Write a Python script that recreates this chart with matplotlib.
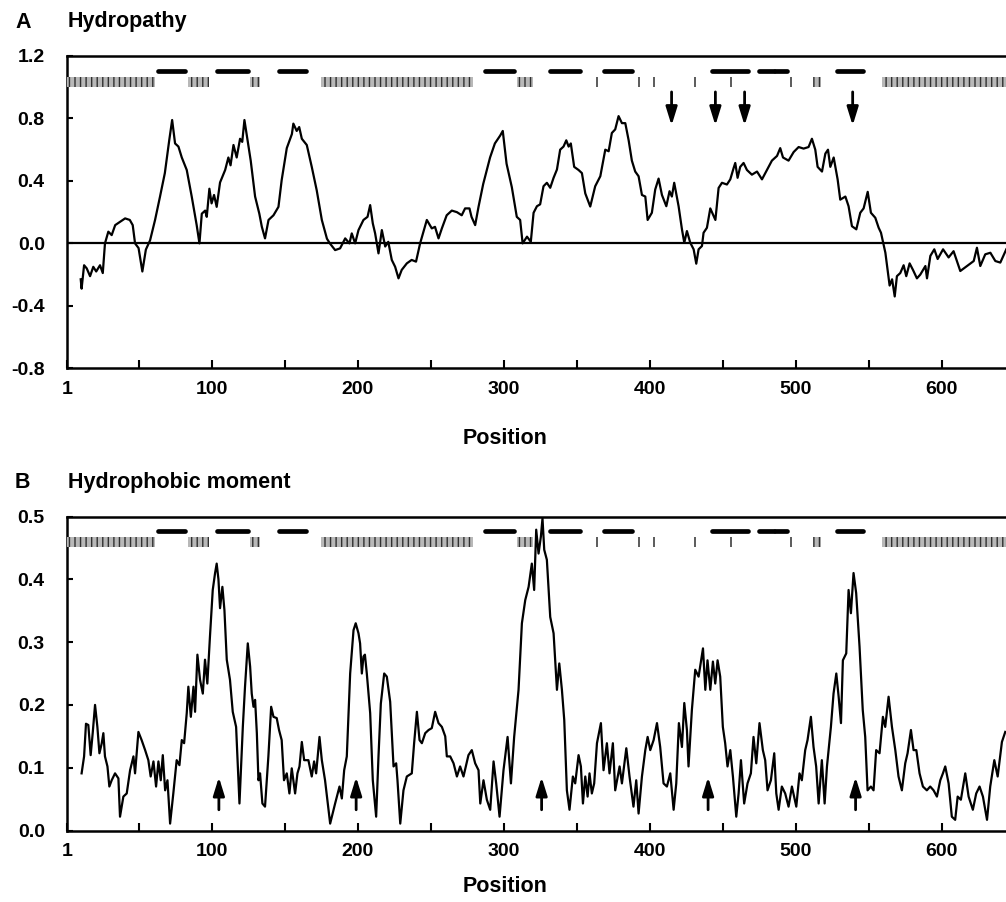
import matplotlib
matplotlib.use("Agg")
import matplotlib.pyplot as plt

plt.rcParams['font.family'] = ['Liberation Sans', 'DejaVu Sans']
plt.rcParams['font.weight'] = 'bold'
plt.rcParams['hatch.linewidth'] = 1.0

# ---- Panel A: hydropathy profile ----
hydro_pos = [10.4, 11, 12.7, 14.5, 16.8, 19, 21, 23.6, 25.5, 27, 29.3, 31.6, 34, 37.3, 40.8, 44, 46, 47.6,
             50, 52.6, 55, 57.9, 61.3, 64.7, 68, 71, 73, 75, 77.3, 79.6, 83, 86.4, 89.8, 91.7, 93.3, 95.6,
             96.7, 98.5, 100, 101.7, 103.5, 105.8, 109.3, 111.5, 113, 115, 117.2, 119.5, 121, 122.5, 124,
             126.8, 129.8, 132.7, 134.4, 136.6, 139, 142.4, 145.8, 148, 151.5, 155, 156, 158.3, 160, 161.8,
             165.2, 168.6, 172, 175.5, 179, 181, 184.6, 188, 191.5, 194.4, 196, 198.3, 200.6, 204, 206.8,
             208.6, 210.4, 212, 214.3, 216.6, 218.9, 221, 223.4, 225.7, 228, 230.2, 233.7, 237, 240, 242.8,
             247.4, 250.8, 253, 255.4, 257.7, 261, 264.5, 268, 271.3, 273.6, 276.6, 278, 280.5, 282.8, 286,
             290.7, 294, 297.6, 299.4, 302, 305.6, 309, 311.3, 313, 316, 318.6, 320.5, 322.8, 325, 327.3,
             329.6, 331.9, 334.2, 336.5, 338.7, 341, 342.9, 344.5, 346, 348.3, 351.3, 353.6, 355.9, 359.3,
             362.7, 366.2, 369.6, 371.9, 374.1, 376.4, 378.7, 381, 383.3, 385.6, 387.8, 390.1, 392.4, 394.7,
             397, 398.6, 401.5, 403.8, 406.1, 408.4, 411.4, 413.6, 415.2, 416.8, 419.8, 422.1, 423.7, 425.5,
             427.8, 430.1, 431.9, 433.5, 435.8, 436.9, 439.2, 441.5, 445, 447.2, 449.5, 452.9, 455.2, 457.5,
             458.6, 460.2, 462, 464.3, 466.6, 470, 473.5, 476.9, 480.3, 483.7, 487.2, 489.4, 491.3, 495.1,
             498.6, 502, 505.4, 508.8, 511.1, 513.4, 515, 518, 520.3, 522.1, 523.7, 526, 528.7, 530.5, 534,
             536.2, 538.5, 541.5, 544.2, 546.5, 549.3, 551.5, 554.5, 556.8, 558.4, 561.4, 564.3, 566, 567.8,
             569.3, 571.6, 573.9, 575.7, 578, 580.3, 583, 585.3, 588.8, 589.9, 592.2, 594.9, 597.2, 600.9,
             604.7, 608.1, 612.7, 617.3, 621.9, 624.1, 626.4, 629.8, 633.3, 636.7, 640.1, 644.2]
hydro_val = [-0.23, -0.29, -0.14, -0.16, -0.21, -0.15, -0.18, -0.14, -0.19, 0.0, 0.075, 0.053, 0.117, 0.138,
             0.16, 0.15, 0.117, 0.0, -0.03, -0.18, -0.04, 0.02, 0.15, 0.3, 0.45, 0.66, 0.79, 0.64, 0.62, 0.55,
             0.47, 0.3, 0.117, 0.0, 0.19, 0.21, 0.17, 0.35, 0.256, 0.31, 0.234, 0.39, 0.47, 0.55, 0.5, 0.63,
             0.55, 0.67, 0.65, 0.79, 0.7, 0.53, 0.3, 0.19, 0.107, 0.032, 0.15, 0.18, 0.234, 0.405, 0.61, 0.7,
             0.767, 0.72, 0.745, 0.67, 0.63, 0.49, 0.34, 0.15, 0.03, 0.0, -0.043, -0.032, 0.032, 0.0, 0.064,
             0.0, 0.085, 0.15, 0.17, 0.245, 0.128, 0.064, -0.064, 0.085, -0.02, 0.01, -0.106, -0.15, -0.224,
             -0.17, -0.128, -0.106, -0.117, 0.0, 0.15, 0.096, 0.106, 0.032, 0.096, 0.18, 0.21, 0.2, 0.18,
             0.224, 0.224, 0.17, 0.117, 0.234, 0.38, 0.55, 0.64, 0.69, 0.72, 0.51, 0.36, 0.17, 0.15, 0.0,
             0.043, 0.01, 0.196, 0.238, 0.25, 0.366, 0.388, 0.356, 0.42, 0.473, 0.6, 0.62, 0.66, 0.62, 0.64,
             0.49, 0.47, 0.45, 0.32, 0.236, 0.366, 0.43, 0.6, 0.59, 0.707, 0.73, 0.815, 0.77, 0.77, 0.66,
             0.53, 0.46, 0.43, 0.31, 0.3, 0.15, 0.196, 0.345, 0.415, 0.31, 0.238, 0.334, 0.3, 0.388, 0.238,
             0.09, 0.004, 0.079, 0.004, -0.038, -0.13, -0.038, -0.017, 0.068, 0.1, 0.224, 0.15, 0.355, 0.388,
             0.377, 0.41, 0.483, 0.515, 0.42, 0.49, 0.515, 0.47, 0.44, 0.46, 0.41, 0.47, 0.53, 0.56, 0.61,
             0.55, 0.53, 0.585, 0.617, 0.607, 0.617, 0.67, 0.6, 0.49, 0.46, 0.575, 0.6, 0.49, 0.55, 0.41,
             0.28, 0.3, 0.238, 0.11, 0.09, 0.196, 0.224, 0.33, 0.196, 0.164, 0.1, 0.068, -0.06, -0.27, -0.23,
             -0.34, -0.21, -0.19, -0.14, -0.21, -0.128, -0.17, -0.224, -0.2, -0.145, -0.224, -0.08, -0.038,
             -0.1, -0.038, -0.09, -0.05, -0.177, -0.145, -0.113, -0.028, -0.145, -0.07, -0.06, -0.113,
             -0.123, -0.038]

# ---- Panel B: hydrophobic moment profile ----
moment_pos = [11, 12.7, 14, 15.6, 17.2, 18.6, 20.2, 21.8, 23.2, 24.8, 25.9, 27, 28.7, 30, 31.6, 33.9, 36.2,
              37.3, 39.6, 41.9, 44.2, 46.5, 47.6, 49.9, 52.1, 54.5, 56.7, 58.3, 60.2, 62, 63.6, 65.2, 66.6,
              68.2, 69.8, 71.6, 73.8, 76.1, 78, 79.6, 81.2, 83, 84.1, 85.8, 87.6, 88.7, 90.3, 92.1, 94, 95.5,
              97.1, 98.9, 100.8, 102.4, 103.5, 104.7, 105.8, 107.4, 108.8, 110.4, 112.6, 114.5, 116.8, 119.1,
              121.4, 122.9, 124.8, 126.4, 127.5, 128.7, 129.8, 131, 132.1, 133.2, 134.8, 136.6, 138.9, 140.8,
              142.4, 144.6, 146.2, 148, 149.6, 151.5, 153.3, 154.9, 157.2, 158.8, 160.2, 161.8, 163.4, 166.3,
              168.6, 170.2, 171.6, 173.9, 175.5, 177.7, 181.2, 184.6, 187.6, 189.2, 190.8, 192.6, 194.9,
              197.2, 198.7, 200.6, 201.7, 202.9, 204, 205, 206.3, 208.6, 210.4, 212.7, 214.3, 215.9, 218.2,
              220, 222.3, 224.6, 226.4, 227.3, 229.2, 231.4, 233.7, 237.1, 238.7, 240.6, 242.4, 244, 246.3,
              248.6, 250.8, 253.1, 255.4, 257.7, 260, 261.1, 263.4, 265.7, 268, 270.2, 272.5, 275.9, 278.2,
              280.5, 282.8, 284, 286.2, 288.5, 290.8, 293.1, 294.9, 297.2, 299.9, 302.7, 305, 307.2, 310.2,
              312.5, 314.8, 317.1, 319.3, 320.9, 322.3, 323.9, 325.5, 326.6, 327.8, 329.6, 331.9, 334.2,
              336.5, 338.1, 339.9, 341.5, 343.3, 345.1, 347.4, 349, 351.3, 352.9, 354.3, 355.9, 357.5, 358.8,
              360.4, 362, 363.9, 366.6, 368.4, 370.7, 372.5, 374.8, 376.4, 379.4, 381, 384, 386.2, 388.9,
              390.8, 392.4, 394.7, 397, 398.6, 400.4, 402.7, 405, 407.2, 409.5, 411.8, 414.1, 416.4, 418.2,
              420, 422.1, 423.7, 425.5, 426.6, 428.9, 431.2, 433.5, 436.5, 438.1, 439.6, 441.5, 443.3, 444.9,
              446.5, 448.3, 450.1, 451.7, 453.3, 455.2, 457, 459.3, 460.9, 462.5, 464.7, 467, 469.3, 471.1,
              473, 475.2, 477.5, 479.1, 480.7, 483, 485.3, 486.7, 488.3, 490.5, 492.8, 495.1, 497.4, 500.4,
              502.6, 504.2, 506.5, 508.1, 510.4, 512.2, 514, 515.7, 517.9, 519.8, 521.4, 524.1, 525.9, 527.8,
              529.4, 531, 532.3, 534.6, 536.2, 537.8, 539.6, 541.4, 543.7, 545.9, 547.6, 549.2, 551.5, 553.3,
              555.1, 557.4, 559.7, 561.3, 563.6, 565.9, 568.2, 570.4, 572.7, 575, 576.6, 578.9, 580.7, 582.6,
              584.8, 587.1, 589.8, 592.1, 594.4, 596.7, 599, 600.8, 602.4, 604.7, 606.9, 609.2, 610.9, 613.1,
              616.1, 618.4, 621.3, 623.6, 625.9, 628.2, 631, 633.2, 636, 638.3, 641.2, 643.5]
moment_val = [0.091, 0.118, 0.17, 0.168, 0.12, 0.155, 0.2, 0.165, 0.123, 0.139, 0.155, 0.118, 0.102, 0.07,
              0.08, 0.091, 0.083, 0.022, 0.054, 0.059, 0.096, 0.118, 0.091, 0.157, 0.144, 0.128, 0.112, 0.086,
              0.11, 0.07, 0.11, 0.08, 0.12, 0.064, 0.08, 0.011, 0.059, 0.112, 0.104, 0.144, 0.139, 0.187,
              0.229, 0.181, 0.229, 0.189, 0.28, 0.24, 0.218, 0.272, 0.234, 0.309, 0.383, 0.41, 0.425, 0.4,
              0.354, 0.388, 0.351, 0.272, 0.24, 0.189, 0.165, 0.043, 0.165, 0.229, 0.298, 0.261, 0.218, 0.197,
              0.208, 0.155, 0.08, 0.091, 0.043, 0.038, 0.118, 0.197, 0.181, 0.179, 0.16, 0.144, 0.08, 0.091,
              0.059, 0.099, 0.059, 0.091, 0.102, 0.141, 0.112, 0.112, 0.086, 0.11, 0.091, 0.149, 0.112, 0.08,
              0.011, 0.043, 0.07, 0.051, 0.096, 0.118, 0.25, 0.319, 0.33, 0.314, 0.298, 0.25, 0.277, 0.28,
              0.25, 0.187, 0.08, 0.022, 0.118, 0.202, 0.25, 0.245, 0.205, 0.102, 0.107, 0.08, 0.011, 0.064,
              0.086, 0.091, 0.139, 0.189, 0.144, 0.139, 0.155, 0.16, 0.163, 0.189, 0.171, 0.165, 0.15, 0.118,
              0.118, 0.107, 0.086, 0.102, 0.086, 0.12, 0.128, 0.107, 0.096, 0.043, 0.08, 0.049, 0.033, 0.11,
              0.075, 0.022, 0.096, 0.149, 0.075, 0.149, 0.224, 0.33, 0.367, 0.388, 0.425, 0.383, 0.479, 0.441,
              0.468, 0.497, 0.447, 0.431, 0.34, 0.314, 0.224, 0.266, 0.224, 0.176, 0.064, 0.033, 0.086, 0.075,
              0.12, 0.102, 0.043, 0.086, 0.054, 0.091, 0.059, 0.075, 0.139, 0.171, 0.096, 0.139, 0.091, 0.139,
              0.064, 0.102, 0.075, 0.131, 0.086, 0.038, 0.08, 0.027, 0.086, 0.128, 0.149, 0.128, 0.144, 0.171,
              0.133, 0.075, 0.07, 0.091, 0.033, 0.075, 0.171, 0.133, 0.203, 0.16, 0.102, 0.192, 0.256, 0.245,
              0.29, 0.224, 0.271, 0.224, 0.269, 0.234, 0.271, 0.245, 0.165, 0.139, 0.102, 0.128, 0.086, 0.022,
              0.059, 0.112, 0.043, 0.075, 0.091, 0.149, 0.107, 0.171, 0.128, 0.112, 0.064, 0.08, 0.123, 0.059,
              0.033, 0.07, 0.059, 0.038, 0.07, 0.038, 0.091, 0.08, 0.128, 0.144, 0.181, 0.133, 0.102, 0.043,
              0.112, 0.043, 0.102, 0.165, 0.218, 0.25, 0.213, 0.171, 0.271, 0.282, 0.383, 0.346, 0.41, 0.378,
              0.293, 0.192, 0.149, 0.064, 0.07, 0.064, 0.128, 0.123, 0.181, 0.165, 0.213, 0.165, 0.128, 0.086,
              0.064, 0.107, 0.123, 0.16, 0.128, 0.128, 0.091, 0.07, 0.064, 0.07, 0.064, 0.054, 0.08, 0.091,
              0.102, 0.075, 0.022, 0.017, 0.054, 0.049, 0.091, 0.054, 0.033, 0.059, 0.07, 0.054, 0.017, 0.07,
              0.112, 0.086, 0.141, 0.157]

# ---- Annotation tracks (same for both panels) ----
helix_segments = [(63, 82), (104, 125), (146, 165), (287, 307), (332, 352), (369, 388),
                  (443, 467), (475, 485), (486, 494), (528, 546)]
hatched_regions = [(1, 61), (84, 98), (126, 133), (175, 279), (309, 320), (512, 517), (559, 644)]
single_marks = [364, 393, 403, 431, 456, 497]

hydro_arrows = [415, 445, 465, 539]
moment_arrows = [105, 199, 326, 440, 541]

x_ticks = [1, 100, 200, 300, 400, 500, 600]
x_minor = [50, 150, 250, 350, 450, 550]


def draw_tracks(ax, helix_y, band_lo, band_hi):
    # thick dashes for the predicted segments
    for s, e in helix_segments:
        ax.plot([s, e], [helix_y, helix_y], color='black', lw=3.4, solid_capstyle='round', zorder=4)
    # barcode-like grey blocks
    for s, e in hatched_regions:
        ax.bar(s, band_hi - band_lo, width=e - s, bottom=band_lo, align='edge',
               facecolor='#b8b8b8', edgecolor='#303030', hatch='|||', linewidth=0, zorder=3)
    ax.vlines(single_marks, band_lo, band_hi, color='#404040', lw=1.2, zorder=3)


def style_axis(ax, yticks):
    ax.set_xlim(1, 644)
    ax.set_xticks(x_ticks)
    ax.set_xticklabels([str(t) for t in x_ticks])
    ax.set_xticks(x_minor, minor=True)
    ax.set_yticks(yticks)
    ax.set_yticklabels(['%.1f' % t for t in yticks])
    ax.set_ylim(yticks[0], yticks[-1])
    ax.tick_params(axis='both', which='both', direction='in', width=1.5, labelsize=14)
    ax.tick_params(axis='x', which='both', length=6, pad=9)
    ax.tick_params(axis='y', which='both', length=4, pad=16)
    for sp in ['left', 'bottom', 'top']:
        ax.spines[sp].set_linewidth(1.8)
    ax.spines['right'].set_visible(False)


fig = plt.figure(figsize=(10.06, 9.02), dpi=100)

# Panel A
axA = fig.add_axes([67 / 1006, 1 - 368.3 / 902, 1 - 67 / 1006, 312.3 / 902])
axA.axhline(0, color='black', lw=1.6, zorder=2)
axA.plot(hydro_pos, hydro_val, color='black', lw=1.6, zorder=5)
draw_tracks(axA, 1.105, 1.0, 1.065)
for p in hydro_arrows:
    axA.annotate('', xy=(p, 0.755), xytext=(p, 0.97),
                 arrowprops=dict(arrowstyle='-|>,head_length=0.55,head_width=0.17', mutation_scale=20,
                                 lw=2, color='black', shrinkA=0, shrinkB=0))
style_axis(axA, [-0.8, -0.4, 0.0, 0.4, 0.8, 1.2])

# Panel B
axB = fig.add_axes([67 / 1006, 1 - 830.5 / 902, 1 - 67 / 1006, 314 / 902])
axB.plot(moment_pos, moment_val, color='black', lw=1.6, zorder=5)
draw_tracks(axB, 0.477, 0.451, 0.467)
for p in moment_arrows:
    axB.annotate('', xy=(p, 0.085), xytext=(p, 0.033),
                 arrowprops=dict(arrowstyle='-|>,head_length=0.55,head_width=0.17', mutation_scale=20,
                                 lw=2, color='black', shrinkA=0, shrinkB=0))
style_axis(axB, [0.0, 0.1, 0.2, 0.3, 0.4, 0.5])

# panel letters, titles and axis names
fig.text(15 / 1006, 1 - 22 / 902, 'A', fontsize=15.5, va='center', ha='left')
fig.text(68 / 1006, 1 - 22 / 902, 'Hydropathy', fontsize=15.5, va='center', ha='left')
fig.text(15 / 1006, 1 - 482 / 902, 'B', fontsize=15.5, va='center', ha='left')
fig.text(68 / 1006, 1 - 482 / 902, 'Hydrophobic moment', fontsize=15.5, va='center', ha='left')
fig.text(505 / 1006, 1 - 438 / 902, 'Position', fontsize=15.5, va='center', ha='center')
fig.text(505 / 1006, 1 - 886 / 902, 'Position', fontsize=15.5, va='center', ha='center')

fig.savefig('out.png', dpi=100)
